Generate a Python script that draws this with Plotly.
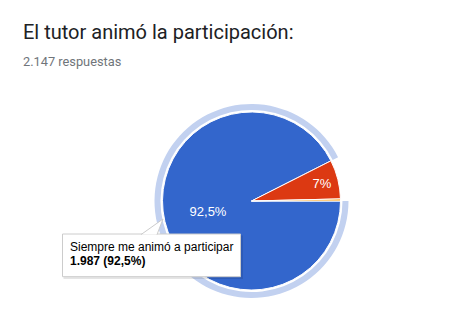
import plotly.graph_objects as go

# ---- data ----
categories = ["Siempre me animó a participar", "A veces me animó a participar", "Nunca me animó a participar"]
values = [1987, 152, 8]
slice_labels = ["92,5%", "7%", ""]
total_responses = 2147
title_text = "El tutor animó la participación:"
subtitle_text = "2.147 respuestas"

colors = ["#3366cc", "#dc3912", "#ff9900"]
ring_colors = ["#c2d1f0", "rgba(0,0,0,0)", "rgba(0,0,0,0)"]

W, H = 453, 315
def px(x):
    return x / W
def py(y):
    return 1 - y / H

cx, cy = 251.5, 201
r_in, r_ring = 89, 97

fig = go.Figure()
# highlight ring for hovered slice
fig.add_trace(go.Pie(
    labels=categories, values=values, sort=False, direction="clockwise", rotation=90,
    hole=91 / 97, marker=dict(colors=ring_colors, line=dict(width=0)),
    textinfo="none", hoverinfo="skip", showlegend=False,
    domain=dict(x=[px(cx - r_ring), px(cx + r_ring)], y=[py(cy + r_ring), py(cy - r_ring)]),
))
fig.add_trace(go.Pie(
    labels=categories, values=values, sort=False, direction="clockwise", rotation=90,
    marker=dict(colors=colors, line=dict(color="white", width=1)),
    text=slice_labels, textinfo="text", textposition="inside", insidetextorientation="horizontal",
    textfont=dict(family="Liberation Sans, Arial, sans-serif", size=13, color="white"),
    hoverinfo="skip", showlegend=False,
    domain=dict(x=[px(cx - r_in), px(cx + r_in)], y=[py(cy + r_in), py(cy - r_in)]),
))

pct = values[0] / total_responses * 100
count_str = f"{values[0]:,}".replace(",", ".")
pct_str = f"{pct:.1f}".replace(".", ",")

shapes = []
# tooltip shadow
shapes.append(dict(type="rect", xref="paper", yref="paper", layer="above",
                   x0=px(63.5), x1=px(243), y0=py(279), y1=py(235.5),
                   fillcolor="rgba(0,0,0,0.10)", line=dict(width=0)))
shapes.append(dict(type="rect", xref="paper", yref="paper", layer="above",
                   x0=px(62.5), x1=px(240.5), y0=py(276.7), y1=py(234),
                   fillcolor="white", line=dict(color="#cccccc", width=1)))
# tooltip tail
path = f"M {px(141)},{py(234.6)} L {px(163)},{py(219)} L {px(157)},{py(234.6)}"
shapes.append(dict(type="path", xref="paper", yref="paper", layer="above", path=path,
                   fillcolor="white", line=dict(color="#cccccc", width=1)))

annotations = [
    dict(text=title_text, x=px(21), y=py(31.7), xref="paper", yref="paper", xanchor="left", yanchor="middle",
         showarrow=False, font=dict(family="Roboto, sans-serif", size=20, color="#202124")),
    dict(text=subtitle_text, x=px(21), y=py(61.5), xref="paper", yref="paper", xanchor="left", yanchor="middle",
         showarrow=False, font=dict(family="Roboto, sans-serif", size=12.8, color="#70757a")),
    dict(text=categories[0], x=px(68), y=py(246.5), xref="paper", yref="paper", xanchor="left", yanchor="middle",
         showarrow=False, font=dict(family="Liberation Sans, Arial, sans-serif", size=12, color="#000000")),
    dict(text=f"<b>{count_str} ({pct_str}%)</b>", x=px(68), y=py(261.2), xref="paper", yref="paper",
         xanchor="left", yanchor="middle",
         showarrow=False, font=dict(family="Liberation Sans, Arial, sans-serif", size=12, color="#000000")),
]

fig.update_layout(
    width=W, height=H, margin=dict(l=0, r=0, t=0, b=0),
    paper_bgcolor="white", plot_bgcolor="white",
    shapes=shapes, annotations=annotations, showlegend=False,
)
fig.write_html("out.html")
